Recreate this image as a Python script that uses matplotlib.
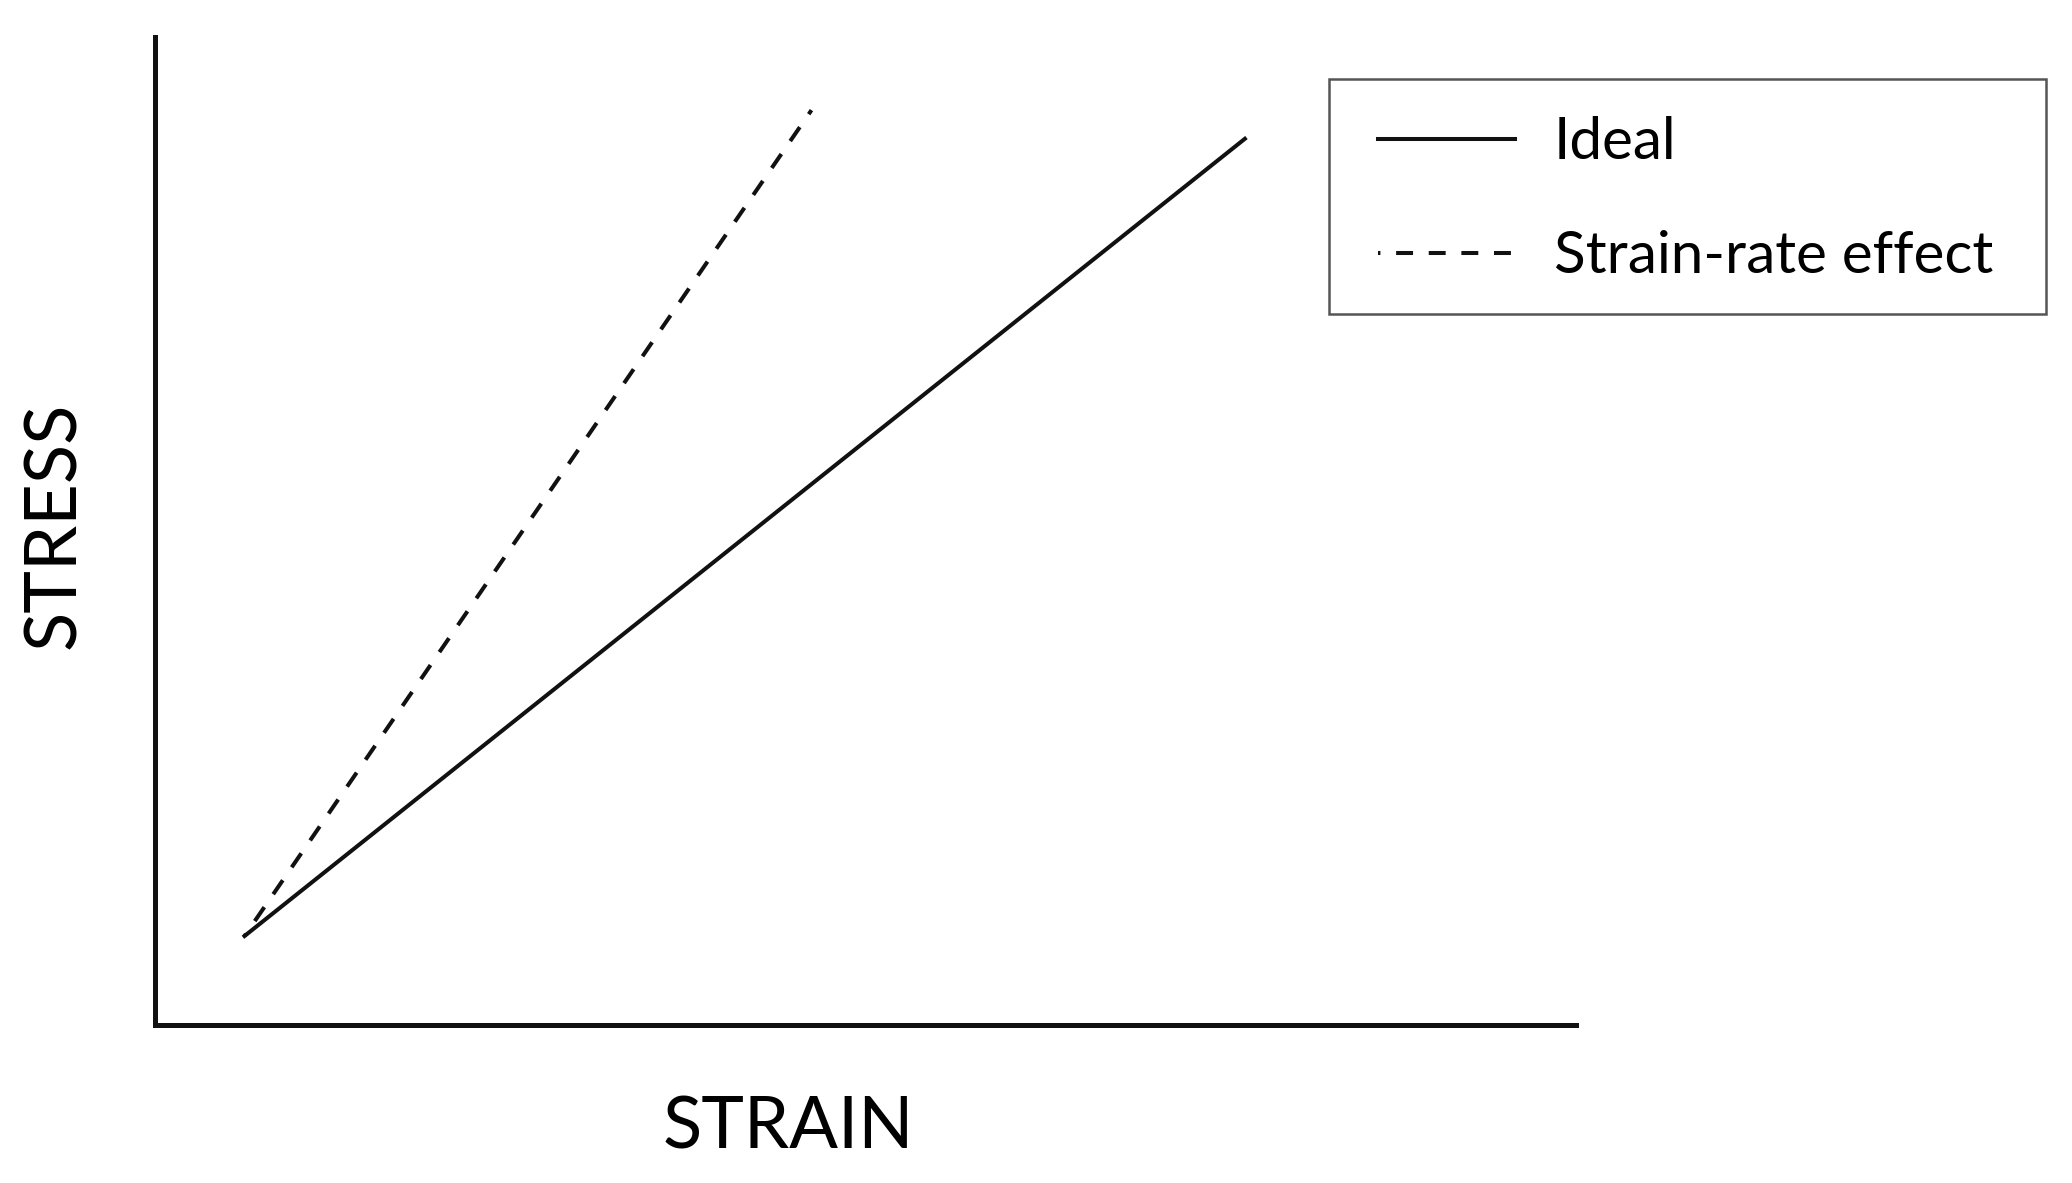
import matplotlib.pyplot as plt
from matplotlib.patches import Rectangle

plt.rcParams['font.family'] = ['Lato', 'DejaVu Sans']

# strain / stress in arbitrary units (axes run 0..1)
ideal_strain = [0.063, 0.767]
ideal_stress = [0.090, 0.897]
rate_strain = [0.063, 0.462]
rate_stress = [0.090, 0.926]

series_labels = ['Ideal', 'Strain-rate effect']

fig = plt.figure(figsize=(20.72, 11.83), dpi=100)
ax = fig.add_axes([0.0748, 0.1336, 0.6858, 0.8351])

ax.plot(ideal_strain, ideal_stress, color='#111111', lw=2.9, label=series_labels[0])
ax.plot(rate_strain, rate_stress, color='#111111', lw=2.9, ls=(3.6, (4.2, 3.9)),
        label=series_labels[1])

ax.set_xlim(0, 1)
ax.set_ylim(0, 1)
ax.set_xticks([])
ax.set_yticks([])
for s in ['top', 'right']:
    ax.spines[s].set_visible(False)
for s in ['left', 'bottom']:
    ax.spines[s].set_linewidth(3.6)
    ax.spines[s].set_color('#111111')

ax.set_xlabel('STRAIN', fontsize=52, va='center')
ax.xaxis.set_label_coords(0.446, -0.104)
ax.set_ylabel('STRESS', fontsize=52, va='center')
ax.yaxis.set_label_coords(-0.071, 0.506)

# legend box
fig.patches.append(Rectangle((1329 / 2072, 1 - 314 / 1183), 717 / 2072, 235 / 1183,
                             transform=fig.transFigure, fill=False,
                             edgecolor='#555555', lw=1.8))
leg = ax.legend(loc='upper left', bbox_to_anchor=(1378 / 2072, 1 - 116 / 1183),
                bbox_transform=fig.transFigure, fontsize=42, frameon=False,
                handlelength=2.35, handletextpad=0.66, labelspacing=1.05,
                borderpad=0, borderaxespad=0)

fig.savefig('out.png', dpi=100)
